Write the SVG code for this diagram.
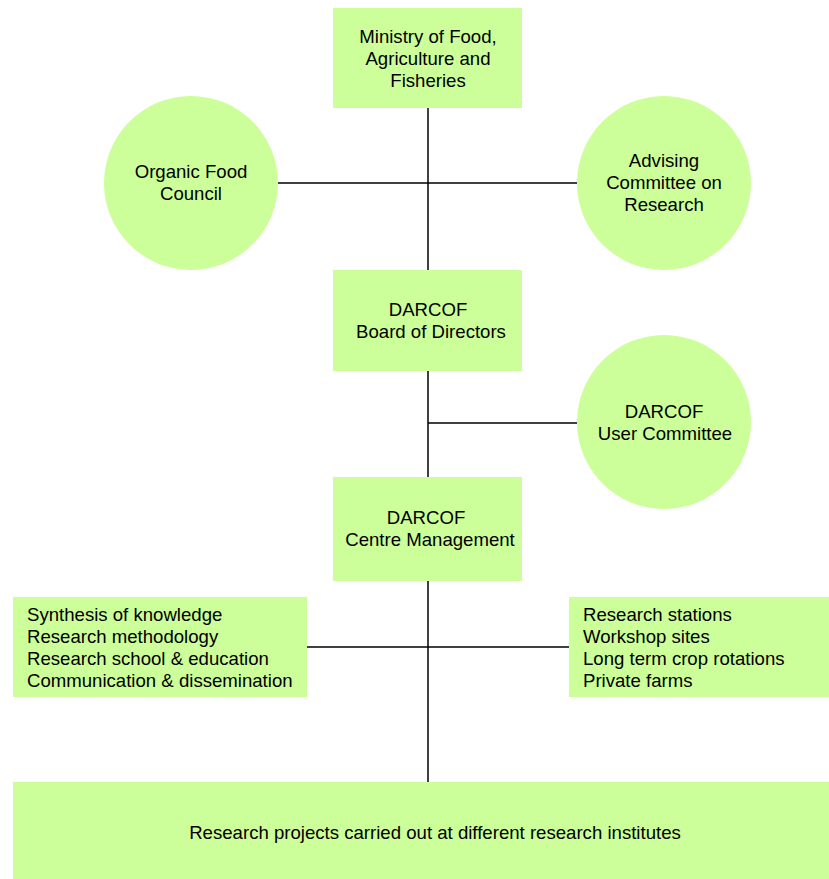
<svg xmlns="http://www.w3.org/2000/svg" width="829" height="879" viewBox="0 0 829 879">
<style>
.n{fill:#CCFF99;stroke:none}
.t{font-family:"Liberation Sans",Arial,sans-serif;font-size:18.6px;fill:#000}
.c{text-anchor:middle}
.l{stroke:#000;stroke-width:1.5;fill:none}
</style>
<rect width="829" height="879" fill="#fff"/>
<g id="connectors">
<line class="l" x1="428" y1="108" x2="428" y2="270"/>
<line class="l" x1="278" y1="183" x2="577" y2="183"/>
<line class="l" x1="428" y1="371" x2="428" y2="477"/>
<line class="l" x1="428" y1="423" x2="577" y2="423"/>
<line class="l" x1="428" y1="581" x2="428" y2="782"/>
<line class="l" x1="307" y1="647" x2="569" y2="647"/>
</g>
<g id="ministry">
<rect class="n" x="333" y="8" width="189" height="100"/>
<text class="t c" x="428" y="43">Ministry of Food,</text>
<text class="t c" x="428" y="65">Agriculture and</text>
<text class="t c" x="428" y="87">Fisheries</text>
</g>
<g id="organic-food-council">
<circle class="n" cx="191" cy="183" r="87"/>
<text class="t c" x="191" y="178">Organic Food</text>
<text class="t c" x="191" y="200">Council</text>
</g>
<g id="advising-committee">
<circle class="n" cx="664" cy="183" r="87"/>
<text class="t c" x="664" y="167">Advising</text>
<text class="t c" x="664" y="189">Committee on</text>
<text class="t c" x="664" y="211">Research</text>
</g>
<g id="board">
<rect class="n" x="333" y="270" width="189" height="101"/>
<text class="t c" x="428" y="316">DARCOF</text>
<text class="t c" x="431" y="338">Board of Directors</text>
</g>
<g id="user-committee">
<circle class="n" cx="664" cy="422" r="87"/>
<text class="t c" x="664" y="418">DARCOF</text>
<text class="t c" x="665" y="440">User Committee</text>
</g>
<g id="centre-management">
<rect class="n" x="333" y="477" width="189" height="104"/>
<text class="t c" x="426" y="524">DARCOF</text>
<text class="t c" x="430" y="546">Centre Management</text>
</g>
<g id="left-list">
<rect class="n" x="13" y="597" width="294" height="100"/>
<text class="t" x="27" y="621">Synthesis of knowledge</text>
<text class="t" x="27" y="643">Research methodology</text>
<text class="t" x="27" y="665">Research school &amp; education</text>
<text class="t" x="27" y="687">Communication &amp; dissemination</text>
</g>
<g id="right-list">
<rect class="n" x="569" y="597" width="260" height="100"/>
<text class="t" x="583" y="621">Research stations</text>
<text class="t" x="583" y="643">Workshop sites</text>
<text class="t" x="583" y="665">Long term crop rotations</text>
<text class="t" x="583" y="687">Private farms</text>
</g>
<g id="research-projects">
<rect class="n" x="13" y="782" width="816" height="97"/>
<text class="t c" x="435" y="839">Research projects carried out at different research institutes</text>
</g>
</svg>
